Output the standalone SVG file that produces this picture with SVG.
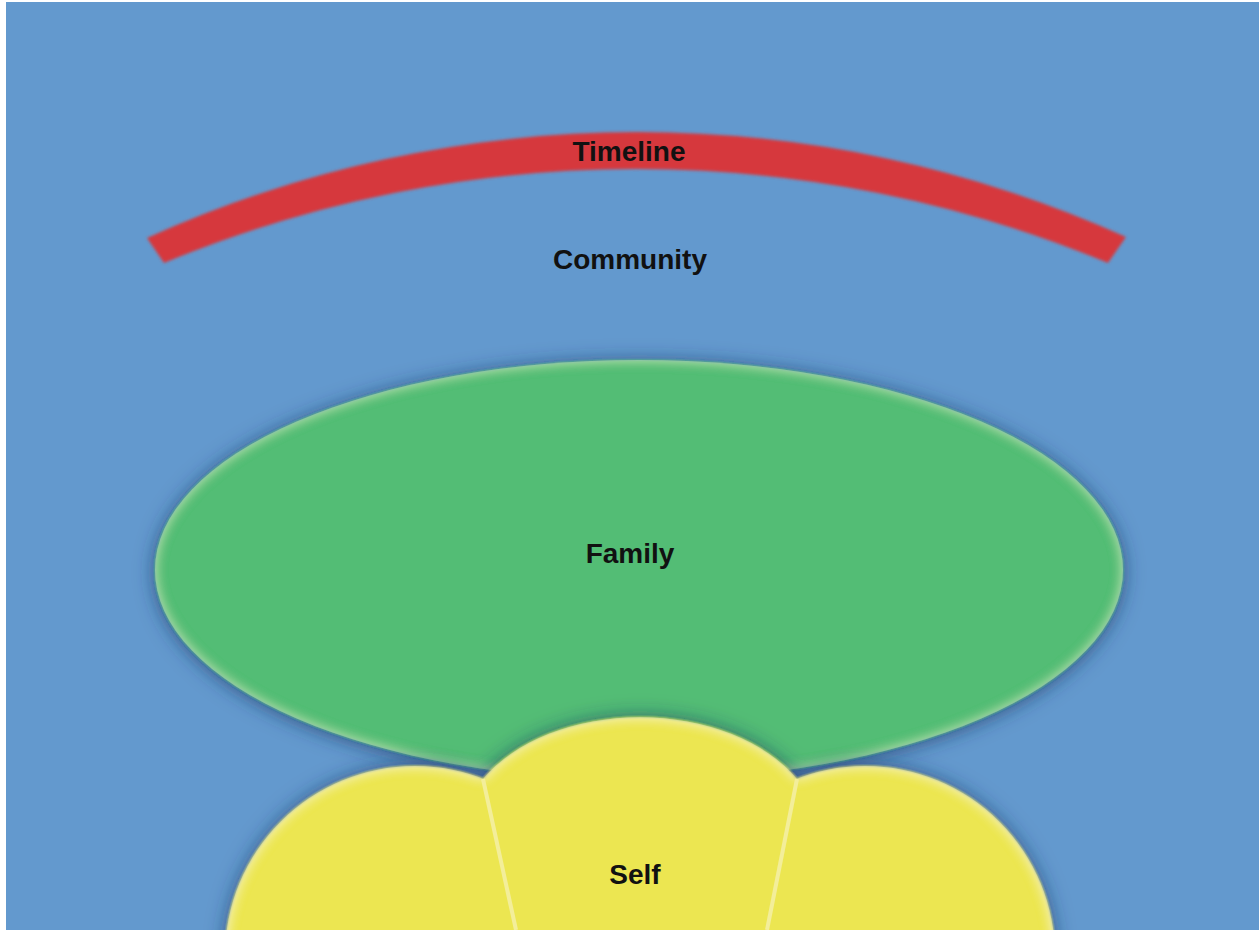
<svg xmlns="http://www.w3.org/2000/svg" width="1259" height="930" viewBox="0 0 1259 930">
  <style>
    .lbl { font-family: "Liberation Sans", Arial, sans-serif; font-weight: bold; font-size: 28px; fill: #111111; text-anchor: middle; }
  </style>
  <defs>
    <filter id="glowGreen" x="-10%" y="-15%" width="120%" height="130%">
      <feGaussianBlur in="SourceAlpha" stdDeviation="10" result="b"/>
      <feOffset in="b" dx="0" dy="2" result="bo"/>
      <feFlood flood-color="#1a3560" flood-opacity="0.75"/>
      <feComposite in2="bo" operator="in" result="shadow"/>
      <feGaussianBlur in="SourceGraphic" stdDeviation="1" result="soft"/>
      <feGaussianBlur in="SourceAlpha" stdDeviation="6" result="b2"/>
      <feComposite in="SourceAlpha" in2="b2" operator="out" result="rim"/>
      <feFlood flood-color="#c8f0c0" flood-opacity="0.8"/>
      <feComposite in2="rim" operator="in" result="rimc"/>
      <feMerge><feMergeNode in="shadow"/><feMergeNode in="soft"/><feMergeNode in="rimc"/></feMerge>
    </filter>
    <filter id="glowYellow" x="-15%" y="-20%" width="130%" height="140%">
      <feGaussianBlur in="SourceAlpha" stdDeviation="10" result="b"/>
      <feFlood flood-color="#1a3560" flood-opacity="0.7"/>
      <feComposite in2="b" operator="in" result="shadow"/>
      <feGaussianBlur in="SourceGraphic" stdDeviation="1" result="soft"/>
      <feGaussianBlur in="SourceAlpha" stdDeviation="6" result="b2"/>
      <feComposite in="SourceAlpha" in2="b2" operator="out" result="rim"/>
      <feFlood flood-color="#fbf7c8" flood-opacity="0.85"/>
      <feComposite in2="rim" operator="in" result="rimc"/>
      <feMerge><feMergeNode in="shadow"/><feMergeNode in="soft"/><feMergeNode in="rimc"/></feMerge>
    </filter>
    <filter id="softRed" x="-5%" y="-20%" width="110%" height="140%">
      <feGaussianBlur in="SourceGraphic" stdDeviation="1.5"/>
    </filter>
  </defs>

  <rect x="0" y="0" width="1259" height="930" fill="#ffffff"/>
  <rect id="background" x="6" y="2" width="1253" height="928" fill="#6399ce"/>

  <g id="timeline">
    <path d="M 147 238 A 1189 1189 0 0 1 1126 237 L 1108 263 A 1232 1232 0 0 0 164 263 Z" fill="#d6393e" filter="url(#softRed)"/>
    <text class="lbl" x="629" y="161">Timeline</text>
  </g>

  <g id="community">
    <text class="lbl" x="630" y="269">Community</text>
  </g>

  <g id="family">
    <ellipse cx="639" cy="570" rx="484" ry="210" fill="#52bd74" filter="url(#glowGreen)"/>
    <text class="lbl" x="630" y="563">Family</text>
  </g>

  <g id="self">
    <g filter="url(#glowYellow)" fill="#ece651">
      <circle cx="415" cy="956" r="190"/>
      <circle cx="865" cy="956" r="190"/>
      <path d="M 483 779 A 180 121 0 0 1 797 779 L 767 945 L 516 945 Z"/>
    </g>
    <g stroke="#f3ee9a" stroke-width="4" fill="none">
      <line x1="483" y1="779" x2="516" y2="930"/>
      <line x1="797" y1="779" x2="767" y2="930"/>
    </g>
    <text class="lbl" x="635" y="884">Self</text>
  </g>

  <g id="connectors"/>
</svg>
